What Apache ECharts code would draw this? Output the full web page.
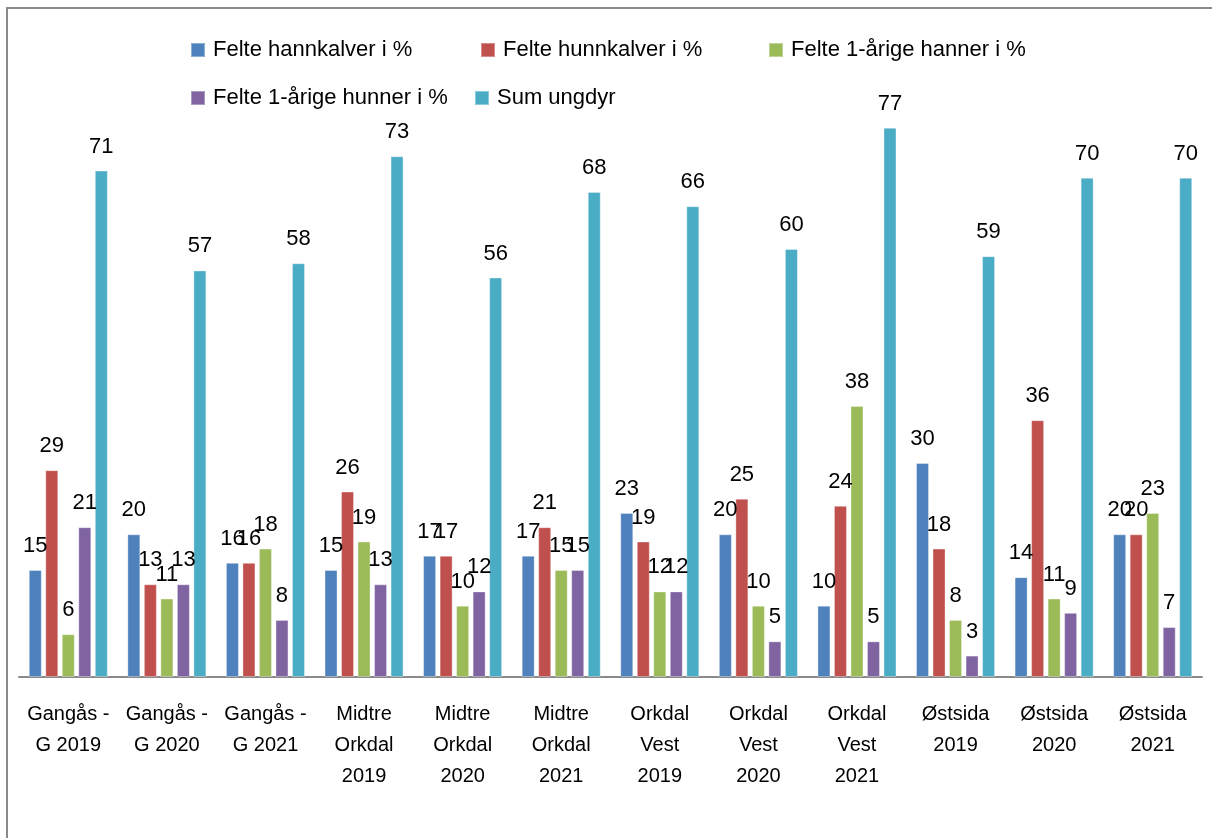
<!DOCTYPE html>
<html>
<head>
<meta charset="utf-8">
<script src="https://cdn.jsdelivr.net/npm/echarts@6/dist/echarts.min.js"></script>
<style>
  html, body { margin: 0; padding: 0; background: #fff; overflow: hidden; }
  #chart { width: 1212px; height: 838px; }
  /* grå ramme, bare venstre og topp synes */
  .frame {
    position: absolute; left: 6px; top: 7px; width: 1400px; height: 1000px;
    border-left: 2px solid #8a8a8a; border-top: 2px solid #8a8a8a;
    pointer-events: none;
  }
</style>
</head>
<body>
<div id="chart"></div>
<div class="frame"></div>
<script>
// kategorier (områder og år)
var categories = [
  "Gangås -\nG 2019", "Gangås -\nG 2020", "Gangås -\nG 2021",
  "Midtre\nOrkdal\n2019", "Midtre\nOrkdal\n2020", "Midtre\nOrkdal\n2021",
  "Orkdal\nVest\n2019", "Orkdal\nVest\n2020", "Orkdal\nVest\n2021",
  "Østsida\n2019", "Østsida\n2020", "Østsida\n2021"
];
var seriesNames = [
  "Felte hannkalver i %", "Felte hunnkalver i %", "Felte 1-årige hanner i %",
  "Felte 1-årige hunner i %", "Sum ungdyr"
];
var hannkalver = [15, 20, 16, 15, 17, 17, 23, 20, 10, 30, 14, 20];
var hunnkalver = [29, 13, 16, 26, 17, 21, 19, 25, 24, 18, 36, 20];
var hanner1 = [6, 11, 18, 19, 10, 15, 12, 10, 38, 8, 11, 23];
var hunner1 = [21, 13, 8, 13, 12, 15, 12, 5, 5, 3, 9, 7];
var sumUngdyr = [71, 57, 58, 73, 56, 68, 66, 60, 77, 59, 70, 70];

var colors = ["#4F81BD", "#C0504D", "#9BBB59", "#8064A2", "#4BACC6"];
var font = "'Liberation Sans', Arial, sans-serif";

var myChart = echarts.init(document.getElementById("chart"));

// Excel-lignende legende: hver post på fast plass
var legendPos = [[190, 39], [480, 39], [768, 39], [190, 87], [474, 87]];
var legends = seriesNames.map(function (name, i) {
  return {
    data: [name],
    left: legendPos[i][0],
    top: legendPos[i][1],
    padding: 0,
    icon: "rect",
    itemWidth: 14,
    itemHeight: 14,
    itemGap: 0,
    textStyle: { fontFamily: font, fontSize: 22, color: "#000", padding: [0, 0, 0, 3] },
    selectedMode: false
  };
});

var allData = [hannkalver, hunnkalver, hanner1, hunner1, sumUngdyr];
var series = allData.map(function (d, i) {
  return {
    name: seriesNames[i],
    type: "bar",
    data: d,
    barWidth: 13,
    barGap: "27%",
    itemStyle: { color: colors[i], borderColor: "rgba(255,255,255,0.35)", borderWidth: 1 },
    label: {
      show: true,
      position: "top",
      distance: 13,
      fontFamily: font,
      fontSize: 22,
      color: "#000"
    }
  };
});

var option = {
  animation: false,
  color: colors,
  legend: legends,
  grid: { left: 19, right: 10, top: 35, bottom: 161 },
  xAxis: {
    type: "category",
    data: categories,
    axisLine: { lineStyle: { color: "#8a8a8a", width: 2 } },
    axisTick: { show: false },
    axisLabel: {
      fontFamily: font,
      fontSize: 20,
      color: "#000",
      lineHeight: 31,
      margin: 22,
      interval: 0,
      verticalAlign: "top"
    }
  },
  yAxis: {
    type: "value",
    min: 0,
    max: 90,
    show: false,
    splitLine: { show: false }
  },
  series: series
};
myChart.setOption(option);
</script>
</body>
</html>
